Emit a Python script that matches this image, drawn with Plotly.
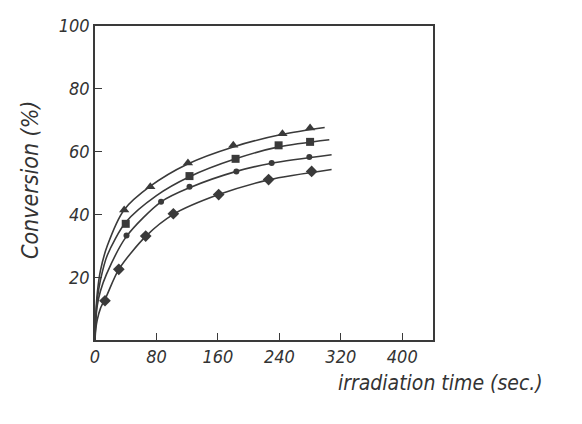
import plotly.graph_objects as go

# marker data
tri_x = [38, 72, 121, 180, 244, 280]
tri_y = [41.4, 48.8, 56.4, 62.0, 65.7, 67.5]
sq_x = [40, 123, 183, 239, 280]
sq_y = [37.0, 52.2, 57.7, 62.0, 63.1]
cir_x = [41, 86, 123, 184, 230, 279]
cir_y = [33.3, 44.0, 48.8, 53.7, 56.4, 58.3]
dia_x = [13, 31, 66, 102, 161, 226, 282]
dia_y = [12.5, 22.5, 33.1, 40.2, 46.3, 51.1, 53.7]

# fitted curves
tri_cx = [0, 1, 3, 7, 16, 38, 72, 120, 180, 244, 299]
tri_cy = [0, 8, 15, 22, 30, 41.5, 49, 56, 61.5, 65.5, 67.7]
sq_cx = [0, 1, 3, 7, 16, 40, 80, 123, 183, 239, 305]
sq_cy = [0, 7, 13, 19, 27, 37.5, 46, 52, 57.7, 61.5, 63.8]
cir_cx = [0, 1, 3, 7, 15, 41, 86, 123, 184, 230, 308]
cir_cy = [0, 6, 11, 15.5, 21, 33, 44, 48.5, 53.7, 56.3, 59]
dia_cx = [0, 1, 3, 7, 15, 31, 66, 102, 161, 226, 308]
dia_cy = [0, 3.5, 6.5, 10, 14, 22.5, 33, 40, 46.3, 51, 54.3]

x_ticks = [0, 80, 160, 240, 320, 400]
y_ticks = [20, 40, 60, 80, 100]

ink = "#3a3a3a"
FONT = "Liberation Sans Narrow, DejaVu Sans Condensed, sans-serif"

OFF = 8  # page body margin
L, T, PW, PH = 95 - OFF, 26 - OFF, 338, 314
W, H = 582, 424

fig = go.Figure()
for cx, cy in [(tri_cx, tri_cy), (sq_cx, sq_cy), (cir_cx, cir_cy), (dia_cx, dia_cy)]:
    fig.add_trace(go.Scatter(x=cx, y=cy, mode="lines", line=dict(color=ink, width=1.6, shape="spline", smoothing=0.8),
                             showlegend=False, hoverinfo="skip"))
for mx, my, sym, sz in [(tri_x, tri_y, "triangle-up", 9), (sq_x, sq_y, "square", 8),
                        (cir_x, cir_y, "circle", 6), (dia_x, dia_y, "diamond", 9)]:
    fig.add_trace(go.Scatter(x=mx, y=my, mode="markers", marker=dict(symbol=sym, size=sz, color=ink),
                             showlegend=False))

fig.update_layout(
    width=W, height=H,
    margin=dict(l=L, r=W - L - PW, t=T, b=H - T - PH, autoexpand=False),
    paper_bgcolor="white", plot_bgcolor="white",
    font=dict(family=FONT, color="#333", size=18, style="italic"),
    xaxis=dict(range=[0, 440], tickvals=x_ticks, ticks="inside", ticklen=7, tickcolor=ink,
               showline=True, linecolor=ink, linewidth=1.5, mirror=True, showgrid=False, zeroline=False,
               tickfont=dict(family=FONT, size=18, style="italic", color="#333")),
    yaxis=dict(range=[0, 100], tickvals=y_ticks, ticks="inside", ticklen=7, tickcolor=ink,
               showline=True, linecolor=ink, linewidth=1.5, mirror=True, showgrid=False, zeroline=False,
               tickfont=dict(family=FONT, size=18, style="italic", color="#333")),
)

def px_to_paper(x, y):
    return (x - OFF - L) / PW, (H - (H - T - PH) - (y - OFF)) / PH

ax, ay = px_to_paper(30, 180)
bx, by = px_to_paper(440, 383)
fig.update_layout(annotations=[
    dict(text="Conversion (%)", x=ax, y=ay, xref="paper", yref="paper", showarrow=False,
         xanchor="center", yanchor="middle", textangle=-90,
         font=dict(family=FONT, size=23, style="italic", color="#333")),
    dict(text="irradiation time (sec.)", x=bx, y=by, xref="paper", yref="paper", showarrow=False,
         xanchor="center", yanchor="middle",
         font=dict(family=FONT, size=21, style="italic", color="#333")),
])

fig.write_html("out.html")
